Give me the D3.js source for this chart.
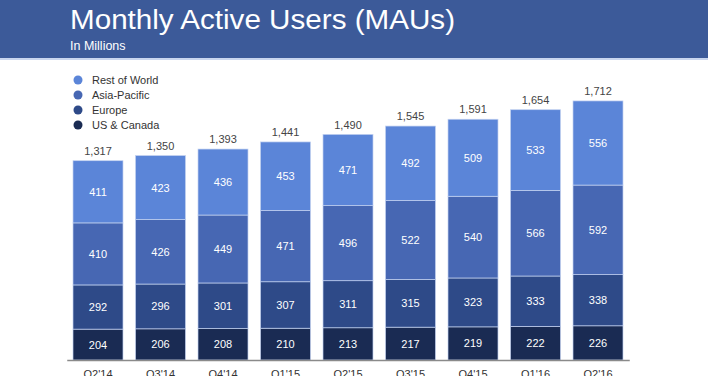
<!DOCTYPE html>
<html>
<head>
<meta charset="utf-8">
<script src="https://cdn.jsdelivr.net/npm/d3@7"></script>
<style>
  html, body { margin: 0; padding: 0; background: #fff; }
  svg { display: block; font-family: "Liberation Sans", Arial, Helvetica, sans-serif; }
</style>
</head>
<body>
<svg></svg>
<script>
var quarters = ["Q2'14", "Q3'14", "Q4'14", "Q1'15", "Q2'15", "Q3'15", "Q4'15", "Q1'16", "Q2'16"];
var usCanada    = [204, 206, 208, 210, 213, 217, 219, 222, 226];
var europe      = [292, 296, 301, 307, 311, 315, 323, 333, 338];
var asiaPacific = [410, 426, 449, 471, 496, 522, 540, 566, 592];
var restOfWorld = [411, 423, 436, 453, 471, 492, 509, 533, 556];
var totals      = [1317, 1350, 1393, 1441, 1490, 1545, 1591, 1654, 1712];

var seriesNames = ["US & Canada", "Europe", "Asia-Pacific", "Rest of World"];
var seriesColors = ["#1a2b53", "#2e4a88", "#4767b3", "#5b85d8"];

(function draw() {
  var width = 708, height = 388;
  var svg = d3.select('svg').attr('width', width).attr('height', height);

  // header band
  svg.append('rect').attr('x', 0).attr('y', 0).attr('width', width).attr('height', 58).attr('fill', '#3c5a99');
  svg.append('rect').attr('x', 0).attr('y', 58).attr('width', width).attr('height', 2).attr('fill', '#c9d6ef');
  svg.append('text').attr('x', 70).attr('y', 29)
    .attr('font-size', 27).attr('fill', '#fff')
    .attr('textLength', 385).attr('lengthAdjust', 'spacingAndGlyphs')
    .text('Monthly Active Users (MAUs)');
  svg.append('text').attr('x', 70).attr('y', 50)
    .attr('font-size', 12.5).attr('fill', '#fff')
    .text('In Millions');

  var rows = quarters.map(function (q, i) {
    return { q: q, total: totals[i], vals: [usCanada[i], europe[i], asiaPacific[i], restOfWorld[i]] };
  });
  var stacked = d3.stack().keys([0, 1, 2, 3]).value(function (d, k) { return d.vals[k]; })(rows);

  var x = d3.scaleBand().domain(quarters).range([66.75, 629.25]).paddingInner(0.2).paddingOuter(0.1);
  var y = d3.scaleLinear().domain([0, 2379]).range([360, 0]);

  var layers = svg.append('g').selectAll('g').data(stacked).enter().append('g')
    .attr('fill', function (d, i) { return seriesColors[i]; });

  layers.selectAll('rect').data(function (d) { return d; }).enter().append('rect')
    .attr('x', function (d) { return x(d.data.q); })
    .attr('y', function (d) { return y(d[1]); })
    .attr('width', x.bandwidth())
    .attr('height', function (d) { return y(d[0]) - y(d[1]); })
    .attr('stroke', '#c3d2f0').attr('stroke-width', 0.7);

  layers.selectAll('text').data(function (d) { return d; }).enter().append('text')
    .attr('x', function (d) { return x(d.data.q) + x.bandwidth() / 2; })
    .attr('y', function (d) { return (y(d[0]) + y(d[1])) / 2 + 4; })
    .attr('text-anchor', 'middle').attr('font-size', 11).attr('fill', '#fff')
    .text(function (d) { return d[1] - d[0]; });

  // totals above bars
  svg.append('g').selectAll('text').data(rows).enter().append('text')
    .attr('x', function (d) { return x(d.q) + x.bandwidth() / 2; })
    .attr('y', function (d) { return y(d.total) - 6; })
    .attr('text-anchor', 'middle').attr('font-size', 11).attr('fill', '#444')
    .text(function (d) { return d3.format(',')(d.total); });

  // x axis, labels cut at the bottom like the source slide
  svg.append('defs').append('clipPath').attr('id', 'cut')
    .append('rect').attr('x', 0).attr('y', 340).attr('width', width).attr('height', 36);
  var axG = svg.append('g').attr('clip-path', 'url(#cut)')
    .append('g').attr('transform', 'translate(0,360)')
    .call(d3.axisBottom(x).tickSize(0).tickPadding(10));
  axG.select('.domain').attr('stroke', '#8a8a8a').attr('stroke-width', 1.5);
  axG.selectAll('text').attr('font-size', 11).attr('fill', '#333')
    .attr('font-family', '"Liberation Sans", Arial, sans-serif');

  // legend
  var legend = svg.append('g').selectAll('g').data(seriesNames.slice().reverse()).enter().append('g')
    .attr('transform', function (d, i) { return 'translate(78,' + (80 + i * 15) + ')'; });
  legend.append('circle').attr('r', 4.5)
    .attr('fill', function (d, i) { return seriesColors[3 - i]; });
  legend.append('text').attr('x', 14).attr('y', 4)
    .attr('font-size', 11).attr('fill', '#333')
    .text(function (d) { return d; });
})();
</script>
</body>
</html>
